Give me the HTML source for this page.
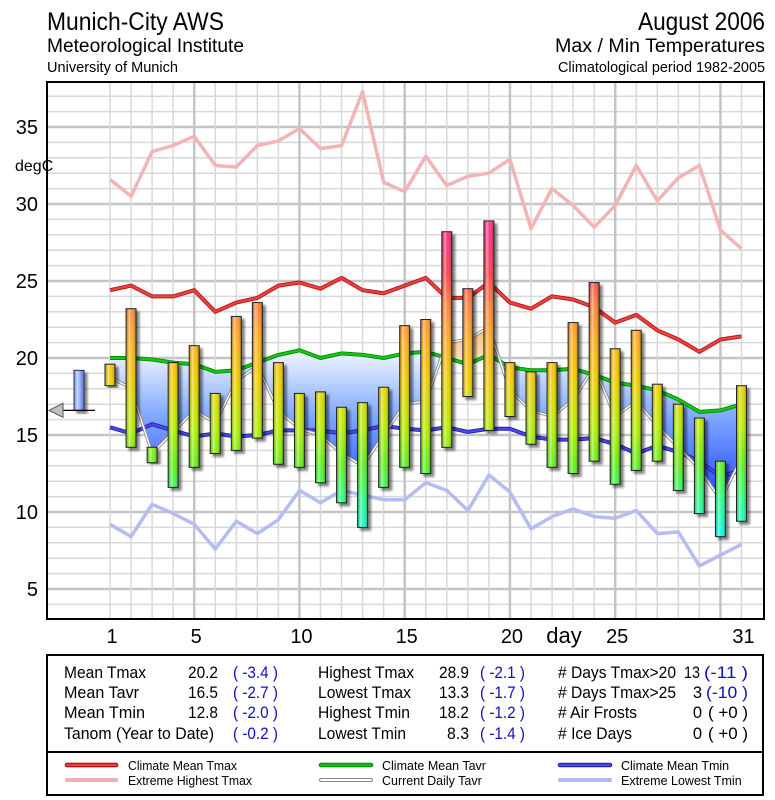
<!DOCTYPE html>
<html><head><meta charset="utf-8">
<style>
html,body{margin:0;padding:0;background:#fff;}
svg{display:block;font-family:"Liberation Sans",Arial,sans-serif;}
</style></head>
<body>
<svg id="chart" width="775" height="800" viewBox="0 0 775 800" xmlns="http://www.w3.org/2000/svg">
<defs>
  <linearGradient id="barCol" gradientUnits="userSpaceOnUse" x1="0" y1="0" x2="0" y2="1"></linearGradient>
  <linearGradient id="cyl" x1="0" y1="0" x2="1" y2="0">
    <stop offset="0" stop-color="#000" stop-opacity="0.15"/>
    <stop offset="0.3" stop-color="#fff" stop-opacity="0.45"/>
    <stop offset="0.6" stop-color="#fff" stop-opacity="0"/>
    <stop offset="1" stop-color="#000" stop-opacity="0.35"/>
  </linearGradient>
  <linearGradient id="blueFill" gradientUnits="userSpaceOnUse" x1="0" y1="355" x2="0" y2="530">
    <stop offset="0" stop-color="#eaf2ff"/>
    <stop offset="0.35" stop-color="#7fa8ff"/>
    <stop offset="1" stop-color="#0022ff"/>
  </linearGradient>
  <linearGradient id="orangeFill" gradientUnits="userSpaceOnUse" x1="0" y1="320" x2="0" y2="370">
    <stop offset="0" stop-color="#ffb060"/>
    <stop offset="1" stop-color="#fff0d8"/>
  </linearGradient>
  <linearGradient id="anomBar" x1="0" y1="0" x2="1" y2="0">
    <stop offset="0" stop-color="#7090f0"/>
    <stop offset="0.35" stop-color="#c8d8ff"/>
    <stop offset="1" stop-color="#5070d8"/>
  </linearGradient>
  <filter id="shadow" x="-50%" y="-10%" width="200%" height="120%">
    <feGaussianBlur in="SourceAlpha" stdDeviation="1.2"/>
    <feOffset dx="3" dy="3" result="o"/>
    <feComponentTransfer><feFuncA type="linear" slope="0.5"/></feComponentTransfer>
    <feMerge><feMergeNode/><feMergeNode in="SourceGraphic"/></feMerge>
  </filter>
  <clipPath id="plotClip"><rect x="48" y="83" width="715" height="535"/></clipPath>
  <clipPath id="belowGreen"><path id="belowGreenPath"/></clipPath>
  <clipPath id="aboveGreen"><path id="aboveGreenPath"/></clipPath>
</defs>

<g>
  <text x="47" y="30" font-size="25" textLength="177" lengthAdjust="spacingAndGlyphs">Munich-City AWS</text>
  <text x="47" y="52" font-size="19" textLength="197" lengthAdjust="spacingAndGlyphs">Meteorological Institute</text>
  <text x="47" y="72" font-size="14.5" textLength="131" lengthAdjust="spacingAndGlyphs">University of Munich</text>
  <text x="765" y="30" font-size="25" text-anchor="end" textLength="127" lengthAdjust="spacingAndGlyphs">August 2006</text>
  <text x="765" y="52" font-size="19" text-anchor="end" textLength="210" lengthAdjust="spacingAndGlyphs">Max / Min Temperatures</text>
  <text x="765" y="72" font-size="14.5" text-anchor="end" textLength="207" lengthAdjust="spacingAndGlyphs">Climatological period 1982-2005</text>
</g>

<g id="grid"></g>
<g id="plot" clip-path="url(#plotClip)"></g>
<rect x="47" y="82" width="717" height="537" fill="none" stroke="#000" stroke-width="2"/>
<g id="yaxis"></g>
<g id="xaxis"></g>
<text x="15" y="171" font-size="16">degC</text>
<text x="564" y="643" font-size="22" text-anchor="middle">day</text>

<g>
  <rect x="47" y="655" width="716" height="140" fill="none" stroke="#000" stroke-width="2"/>
  <line x1="47" y1="752" x2="763" y2="752" stroke="#000" stroke-width="2"/>
  <g font-size="16.5">
    <text x="64" y="678" textLength="82" lengthAdjust="spacingAndGlyphs">Mean Tmax</text>
    <text x="218" y="678" text-anchor="end" textLength="30" lengthAdjust="spacingAndGlyphs">20.2</text>
    <text x="233" y="678" fill="#1010c0" textLength="45" lengthAdjust="spacingAndGlyphs">( -3.4 )</text>
    <text x="64" y="698" textLength="75" lengthAdjust="spacingAndGlyphs">Mean Tavr</text>
    <text x="218" y="698" text-anchor="end" textLength="30" lengthAdjust="spacingAndGlyphs">16.5</text>
    <text x="233" y="698" fill="#1010c0" textLength="45" lengthAdjust="spacingAndGlyphs">( -2.7 )</text>
    <text x="64" y="718" textLength="81" lengthAdjust="spacingAndGlyphs">Mean Tmin</text>
    <text x="218" y="718" text-anchor="end" textLength="30" lengthAdjust="spacingAndGlyphs">12.8</text>
    <text x="233" y="718" fill="#1010c0" textLength="45" lengthAdjust="spacingAndGlyphs">( -2.0 )</text>
    <text x="64" y="739" textLength="150" lengthAdjust="spacingAndGlyphs">Tanom (Year to Date)</text>
    <text x="233" y="739" fill="#1010c0" textLength="45" lengthAdjust="spacingAndGlyphs">( -0.2 )</text>

    <text x="318" y="678" textLength="96" lengthAdjust="spacingAndGlyphs">Highest Tmax</text>
    <text x="469" y="678" text-anchor="end" textLength="30" lengthAdjust="spacingAndGlyphs">28.9</text>
    <text x="480" y="678" fill="#1010c0" textLength="45" lengthAdjust="spacingAndGlyphs">( -2.1 )</text>
    <text x="318" y="698" textLength="93" lengthAdjust="spacingAndGlyphs">Lowest Tmax</text>
    <text x="469" y="698" text-anchor="end" textLength="30" lengthAdjust="spacingAndGlyphs">13.3</text>
    <text x="480" y="698" fill="#1010c0" textLength="45" lengthAdjust="spacingAndGlyphs">( -1.7 )</text>
    <text x="318" y="718" textLength="92" lengthAdjust="spacingAndGlyphs">Highest Tmin</text>
    <text x="469" y="718" text-anchor="end" textLength="30" lengthAdjust="spacingAndGlyphs">18.2</text>
    <text x="480" y="718" fill="#1010c0" textLength="45" lengthAdjust="spacingAndGlyphs">( -1.2 )</text>
    <text x="318" y="739" textLength="88" lengthAdjust="spacingAndGlyphs">Lowest Tmin</text>
    <text x="469" y="739" text-anchor="end" textLength="22" lengthAdjust="spacingAndGlyphs">8.3</text>
    <text x="480" y="739" fill="#1010c0" textLength="45" lengthAdjust="spacingAndGlyphs">( -1.4 )</text>

    <text x="558" y="678" textLength="118" lengthAdjust="spacingAndGlyphs"># Days Tmax&gt;20</text>
    <text x="700" y="678" text-anchor="end" textLength="16" lengthAdjust="spacingAndGlyphs">13</text>
    <text x="704" y="678" fill="#1010c0" textLength="44" lengthAdjust="spacingAndGlyphs">(-11 )</text>
    <text x="558" y="698" textLength="118" lengthAdjust="spacingAndGlyphs"># Days Tmax&gt;25</text>
    <text x="702" y="698" text-anchor="end">3</text>
    <text x="706" y="698" fill="#1010c0" textLength="42" lengthAdjust="spacingAndGlyphs">(-10 )</text>
    <text x="558" y="718" textLength="79" lengthAdjust="spacingAndGlyphs"># Air Frosts</text>
    <text x="702" y="718" text-anchor="end">0</text>
    <text x="708" y="718" textLength="40" lengthAdjust="spacingAndGlyphs">( +0 )</text>
    <text x="558" y="739" textLength="74" lengthAdjust="spacingAndGlyphs"># Ice Days</text>
    <text x="702" y="739" text-anchor="end">0</text>
    <text x="708" y="739" textLength="40" lengthAdjust="spacingAndGlyphs">( +0 )</text>
  </g>
</g>

<g font-size="12.5">
  <g>
    <line x1="67" y1="765" x2="116" y2="765" stroke="#a00" stroke-width="4.5" stroke-linecap="round"/>
    <line x1="67" y1="765" x2="116" y2="765" stroke="#f04040" stroke-width="2.5" stroke-linecap="round"/>
    <text x="128" y="770" textLength="109" lengthAdjust="spacingAndGlyphs">Climate Mean Tmax</text>
  </g>
  <g>
    <line x1="67" y1="780" x2="116" y2="780" stroke="#f0b0b0" stroke-width="4" stroke-linecap="round"/>
    <text x="128" y="785" textLength="124" lengthAdjust="spacingAndGlyphs">Extreme Highest Tmax</text>
  </g>
  <g>
    <line x1="321" y1="765" x2="371" y2="765" stroke="#080" stroke-width="4.5" stroke-linecap="round"/>
    <line x1="321" y1="765" x2="371" y2="765" stroke="#10c010" stroke-width="2.5" stroke-linecap="round"/>
    <text x="382" y="770">Climate Mean Tavr</text>
  </g>
  <g>
    <line x1="321" y1="780" x2="371" y2="780" stroke="#888" stroke-width="4" stroke-linecap="round"/>
    <line x1="321" y1="780" x2="371" y2="780" stroke="#fff" stroke-width="2" stroke-linecap="round"/>
    <text x="382" y="785">Current Daily Tavr</text>
  </g>
  <g>
    <line x1="560" y1="765" x2="610" y2="765" stroke="#2020a0" stroke-width="4.5" stroke-linecap="round"/>
    <line x1="560" y1="765" x2="610" y2="765" stroke="#4848e8" stroke-width="2.5" stroke-linecap="round"/>
    <text x="621" y="770">Climate Mean Tmin</text>
  </g>
  <g>
    <line x1="560" y1="780" x2="610" y2="780" stroke="#b0b8f0" stroke-width="4" stroke-linecap="round"/>
    <text x="621" y="785">Extreme Lowest Tmin</text>
  </g>
</g>

<script>
const days = [1,2,3,4,5,6,7,8,9,10,11,12,13,14,15,16,17,18,19,20,21,22,23,24,25,26,27,28,29,30,31];
const tmax = [19.6,23.2,14.2,19.7,20.8,17.7,22.7,23.6,19.7,17.7,17.8,16.8,17.1,18.1,22.1,22.5,28.2,24.5,28.9,19.7,19.1,19.7,22.3,24.9,20.6,21.8,18.3,17.0,16.1,13.3,18.2];
const tmin = [18.2,14.2,13.2,11.6,12.9,13.8,14.0,14.8,13.1,12.9,11.9,10.6,9.0,11.6,12.9,12.5,14.2,17.5,15.3,16.2,14.4,12.9,12.5,13.3,11.8,12.7,13.3,11.4,9.9,8.4,9.4];
const tavr = [18.8,18.0,13.8,15.2,16.6,15.8,18.5,19.5,16.6,15.4,15.0,13.8,13.0,15.0,17.0,17.2,21.0,21.2,22.0,17.9,16.6,16.2,17.3,19.4,16.2,17.2,15.6,14.2,12.8,10.8,13.5];
const climTmax = [24.4,24.7,24.0,24.0,24.4,23.0,23.6,23.9,24.7,24.9,24.5,25.2,24.4,24.2,24.7,25.2,23.9,23.9,24.9,23.6,23.2,24.0,23.8,23.3,22.3,22.8,21.8,21.2,20.4,21.2,21.4];
const extTmax = [31.6,30.5,33.4,33.8,34.4,32.5,32.4,33.8,34.1,34.9,33.6,33.8,37.3,31.4,30.8,33.1,31.2,31.8,32.0,32.9,28.4,31.0,29.9,28.5,29.9,32.5,30.2,31.7,32.5,28.3,27.1];
const climTavr = [20.0,20.0,19.9,19.7,19.6,19.1,19.2,19.7,20.2,20.5,20.0,20.3,20.2,20.0,20.3,20.4,20.0,19.6,20.2,19.4,19.2,19.2,19.3,18.9,18.4,18.2,17.9,17.3,16.5,16.6,17.0];
const climTmin = [15.5,15.1,15.7,15.3,14.9,15.1,14.9,15.0,15.3,15.3,15.3,15.1,15.3,15.6,15.4,15.3,15.5,15.2,15.4,15.4,14.9,14.7,14.7,14.8,14.4,13.8,14.3,13.9,13.3,12.3,12.7];
const extTmin = [9.2,8.4,10.5,9.9,9.2,7.6,9.4,8.6,9.5,11.4,10.6,11.4,11.1,10.8,10.8,11.9,11.4,10.1,12.4,11.3,8.9,9.7,10.2,9.7,9.6,10.1,8.6,8.7,6.5,7.2,7.9];
const anomTop = 19.2;
const anomBottom = 16.6;
const yTickLabels = ["5","10","15","20","25","30","35"];
const yTickValues = [5,10,15,20,25,30,35];
const xTickLabels = ["1","5","10","15","20","25","31"];
const xTickValues = [1,5,10,15,20,25,31];

const NS = "http://www.w3.org/2000/svg";
const X = d => 110 + (d - 1) * 21.05;
const Y = v => 204 - (v - 30) * 15.4;
function mk(tag, attrs, parent){ const e = document.createElementNS(NS, tag); for (const k in attrs) e.setAttribute(k, attrs[k]); if (parent) parent.appendChild(e); return e; }
function pts(arr){ return arr.map((v,i)=>X(days[i]).toFixed(1)+","+Y(v).toFixed(1)).join(" "); }

const grad = document.getElementById('barCol');
grad.setAttribute('y1', Y(30)); grad.setAttribute('y2', Y(8));
[[30,'#ff40b0'],[28,'#ff3080'],[25.5,'#ff4050'],[23.5,'#ff8040'],[21,'#ffb020'],[18.5,'#f0d000'],[15.5,'#b8f000'],[13,'#60f020'],[11,'#30ff80'],[8,'#00ffff']].forEach(s=>{
  mk('stop', {offset: ((30 - s[0]) / 22).toFixed(3), 'stop-color': s[1]}, grad);
});

const grid = document.getElementById('grid');
for (let v = 4; v <= 37; v++) {
  const l = mk('line', {x1: 48, x2: 763, y1: Y(v), y2: Y(v), stroke: v % 5 === 0 ? '#c4c4c4' : '#d8d8d8', 'stroke-width': v % 5 === 0 ? 2.5 : 1.5}, grid);
  
  
}
for (let d = 1; d <= 31; d++) {
  const l = mk('line', {x1: X(d), x2: X(d), y1: 83, y2: 618, stroke: d % 5 === 0 ? '#c4c4c4' : '#d8d8d8', 'stroke-width': d % 5 === 0 ? 2.5 : 1.5}, grid);
  
  
}

const ya = document.getElementById('yaxis');
yTickValues.forEach((v,i)=>{
  const t = mk('text', {x: 38, y: Y(v) + 7, 'font-size': 20, 'text-anchor': 'end'}, ya);
  t.textContent = yTickLabels[i];
  
  
});
const xa = document.getElementById('xaxis');
xTickValues.forEach((d,i)=>{
  const t = mk('text', {x: X(d) + 2, y: 643, 'font-size': 20, 'text-anchor': 'middle'}, xa);
  t.textContent = xTickLabels[i];
  
  
});

const gLine = climTavr.map((v,i)=>X(days[i]).toFixed(1)+","+Y(v).toFixed(1));
const x0 = X(1), x1 = X(31);
document.getElementById('belowGreenPath').setAttribute('d', 'M'+x0+',700 L'+gLine.join(' L')+' L'+x1+',700 Z');
document.getElementById('aboveGreenPath').setAttribute('d', 'M'+x0+',0 L'+gLine.join(' L')+' L'+x1+',0 Z');

const plot = document.getElementById('plot');
const areaPts = pts(climTavr) + " " + tavr.map((v,i)=>X(days[i]).toFixed(1)+","+Y(v).toFixed(1)).reverse().join(" ");
const blue = mk('polygon', {points: areaPts, fill: 'url(#blueFill)', 'clip-path': 'url(#belowGreen)'}, plot);


const orange = mk('polygon', {points: areaPts, fill: 'url(#orangeFill)', 'clip-path': 'url(#aboveGreen)'}, plot);



function series(arr, name, outer, inner, wo, wi){
  const g = mk('g', {}, plot);
  
  
  mk('polyline', {points: pts(arr), fill: 'none', stroke: outer, 'stroke-width': wo, 'stroke-linejoin': 'round'}, g);
  if (inner) mk('polyline', {points: pts(arr), fill: 'none', stroke: inner, 'stroke-width': wi, 'stroke-linejoin': 'round'}, g);
}
series(extTmax, 'extreme-highest-tmax-line', '#f2b4b4', null, 3.5);
series(extTmin, 'extreme-lowest-tmin-line', '#b4bcf2', null, 3.5);
series(climTmax, 'climate-mean-tmax-line', '#b01818', '#f04040', 4, 2.2);
series(climTmin, 'climate-mean-tmin-line', '#2020a0', '#4a4aea', 4, 2.2);
series(climTavr, 'climate-mean-tavr-line', '#088808', '#14c814', 4, 2.2);
series(tavr, 'current-daily-tavr-line', '#8a8a8a', '#ffffff', 3.2, 1.4);

days.forEach((d,i)=>{
  const g = mk('g', {filter: 'url(#shadow)'}, plot);
  
  
  const yt = Y(tmax[i]), yb = Y(tmin[i]);
  mk('rect', {x: X(d) - 5, y: yt, width: 10, height: yb - yt, fill: 'url(#barCol)'}, g);
  mk('rect', {x: X(d) - 5, y: yt, width: 10, height: yb - yt, fill: 'url(#cyl)', stroke: '#222', 'stroke-width': 1}, g);
});

const ag = mk('g', {}, document.getElementById('chart'));


const ab = mk('g', {filter: 'url(#shadow)'}, ag);
mk('rect', {x: 74, y: Y(anomTop), width: 10, height: Y(anomBottom) - Y(anomTop), fill: 'url(#anomBar)', stroke: '#334', 'stroke-width': 1}, ab);
mk('line', {x1: 60, x2: 95, y1: Y(anomBottom), y2: Y(anomBottom), stroke: '#000', 'stroke-width': 1.2}, ag);
mk('polygon', {points: '49,'+Y(anomBottom)+' 63,'+(Y(anomBottom)-7)+' 63,'+(Y(anomBottom)+7), fill: '#c0c0c0', stroke: '#555', 'stroke-width': 1}, ag);
</script>
</svg>
</body></html>
